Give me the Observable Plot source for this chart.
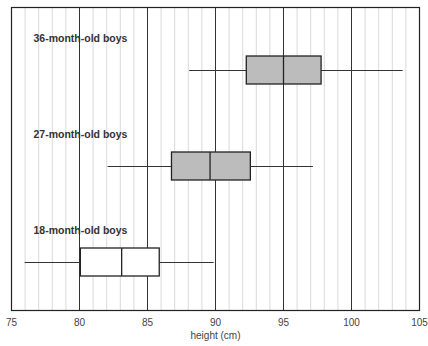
<!DOCTYPE html>
<html>
<head>
<meta charset="utf-8">
<script src="https://cdn.jsdelivr.net/npm/d3@7"></script>
<script src="https://cdn.jsdelivr.net/npm/@observablehq/plot@0.6"></script>
<style>
  html, body { margin: 0; padding: 0; background: #fff; }
  #chart { width: 428px; height: 346px; }
</style>
</head>
<body>
<div id="chart"></div>
<script>
const groups = ["36-month-old boys", "27-month-old boys", "18-month-old boys"];
const minVals = [88.1, 82.1, 76.0];
const q1Vals = [92.3, 86.8, 80.1];
const medianVals = [95.0, 89.6, 83.1];
const q3Vals = [97.8, 92.6, 85.9];
const maxVals = [103.8, 97.2, 89.9];
const fills = ["#bcbcbc", "#bcbcbc", "#ffffff"];
const xTicks = [75, 80, 85, 90, 95, 100, 105];
const minorTicks = d3.range(75, 106, 1);

const data = groups.map((g, i) => ({
  group: g, min: minVals[i], q1: q1Vals[i], median: medianVals[i],
  q3: q3Vals[i], max: maxVals[i], fill: fills[i]
}));

const chart = Plot.plot({
  width: 428,
  height: 346,
  marginLeft: 11,
  marginRight: 9,
  marginTop: 7,
  marginBottom: 36,
  style: { fontFamily: "Liberation Sans, Arial, sans-serif", fontSize: "10px", color: "#444", background: "#fff" },
  x: { domain: [75, 105], ticks: xTicks, label: "height (cm)", labelArrow: "none", labelAnchor: "center", labelOffset: 28, tickSize: 0, tickPadding: 8 },
  y: { domain: groups, axis: null, insetTop: 14, padding: 0 },
  marks: [
    Plot.ruleX(minorTicks, { stroke: "#cfcfcf", strokeWidth: 0.8 }),
    Plot.ruleX(xTicks.slice(1, -1), { stroke: "#333", strokeWidth: 1 }),
    Plot.frame({ stroke: "#222", strokeWidth: 1.2 }),
    Plot.ruleY(data, { y: "group", x1: "min", x2: "q1", stroke: "#333", strokeWidth: 1.2 }),
    Plot.ruleY(data, { y: "group", x1: "q3", x2: "max", stroke: "#333", strokeWidth: 1.2 }),
    Plot.barX(data, { y: "group", x1: "q1", x2: "q3", fill: d => d.fill, stroke: "#222", strokeWidth: 1.3, insetTop: 34, insetBottom: 34 }),
    Plot.tickX(data, { y: "group", x: "median", stroke: "#222", strokeWidth: 1.3, insetTop: 34, insetBottom: 34 }),
    Plot.text(data, { y: "group", x: 75, text: "group", dx: 22, dy: -32, textAnchor: "start", fontWeight: "bold", fontSize: 10.5, fill: "#333" })
  ]
});
document.getElementById("chart").appendChild(chart);
</script>
</body>
</html>
